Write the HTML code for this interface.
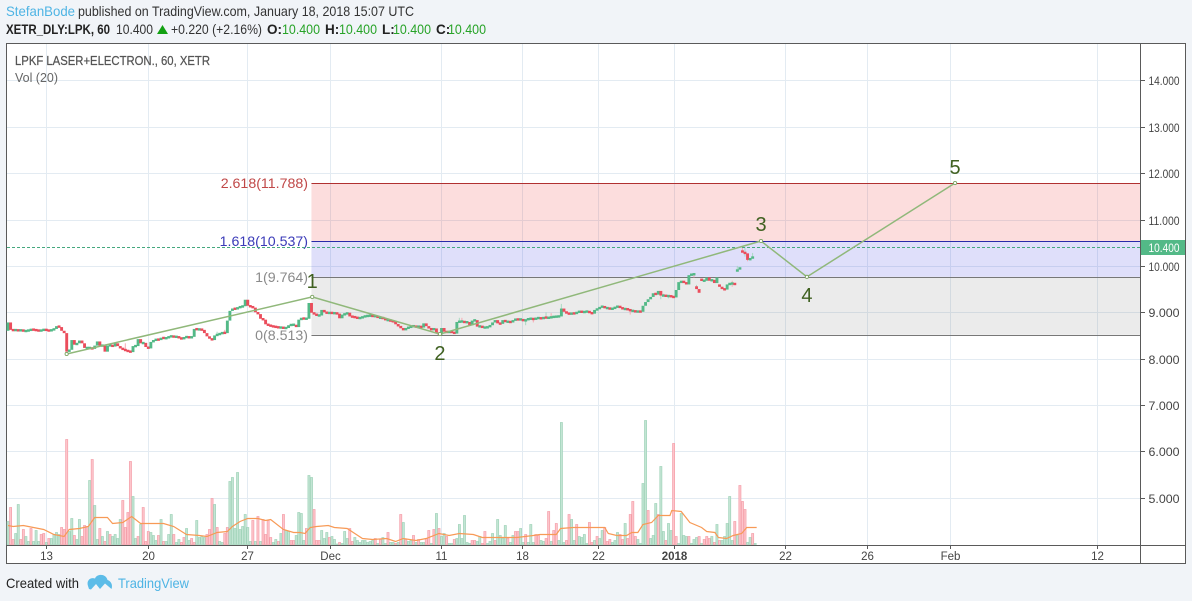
<!DOCTYPE html>
<html lang="en">
<head>
<meta charset="utf-8">
<title>LPKF Laser+Electron chart</title>
<style>
html,body{margin:0;padding:0;background:#f1f4f8;width:1192px;height:601px;overflow:hidden}
svg{display:block;font-family:"Liberation Sans",sans-serif}
</style>
</head>
<body>
<svg id="chart" xmlns="http://www.w3.org/2000/svg" width="1192" height="601" viewBox="0 0 1192 601">
  <rect x="0" y="0" width="1192" height="601" fill="#f1f4f8"/>
  <g font-size="14">
    <text x="6" y="16" fill="#4eb4e4" textLength="69" lengthAdjust="spacingAndGlyphs">StefanBode</text>
    <text x="78" y="16" fill="#333" textLength="336" lengthAdjust="spacingAndGlyphs">published on TradingView.com, January 18, 2018 15:07 UTC</text>
  </g>
  <g font-size="13.5">
    <text x="6" y="34" font-weight="bold" fill="#222" textLength="104" lengthAdjust="spacingAndGlyphs">XETR_DLY:LPK, 60</text>
    <text x="116" y="34" fill="#333" textLength="37" lengthAdjust="spacingAndGlyphs">10.400</text>
    <polygon points="162.5,25 168,34 157,34" fill="#12a012"/>
    <text x="171" y="34" fill="#333" textLength="91" lengthAdjust="spacingAndGlyphs">+0.220 (+2.16%)</text>
    <text x="267" y="34" font-weight="bold" fill="#222">O:</text>
    <text x="282" y="34" fill="#27a327" textLength="38" lengthAdjust="spacingAndGlyphs">10.400</text>
    <text x="325" y="34" font-weight="bold" fill="#222">H:</text>
    <text x="339" y="34" fill="#27a327" textLength="38" lengthAdjust="spacingAndGlyphs">10.400</text>
    <text x="382" y="34" font-weight="bold" fill="#222">L:</text>
    <text x="393" y="34" fill="#27a327" textLength="38" lengthAdjust="spacingAndGlyphs">10.400</text>
    <text x="436" y="34" font-weight="bold" fill="#222">C:</text>
    <text x="448" y="34" fill="#27a327" textLength="38" lengthAdjust="spacingAndGlyphs">10.400</text>
  </g>
  <rect x="6.5" y="43.5" width="1179" height="520" fill="#fff" stroke="#5a5a5a" stroke-width="1"/>
  <g id="grid"></g>
  <g id="fib"></g>
  <g id="volume"></g>
  <g id="candles"></g>
  <g id="wave"></g>
  <g id="axes"></g>
  <g>
    <text x="15" y="65" font-size="13" fill="#555" stroke="#555" stroke-width="0.25" textLength="195" lengthAdjust="spacingAndGlyphs">LPKF LASER+ELECTRON., 60, XETR</text>
    <text x="15" y="82" font-size="13" fill="#666" textLength="43" lengthAdjust="spacingAndGlyphs">Vol (20)</text>
  </g>
  <g>
    <text x="6" y="588" font-size="14" fill="#222" textLength="73" lengthAdjust="spacingAndGlyphs">Created with</text>
    <path d="M88 586 C86 580 91 577 95 578.5 C97 573.5 106 573.5 107.5 580 C111 581 113 585 111.5 589 L105 583.5 L100 589 L96 584 L91 589.5 L89 589 Z" fill="#5cbce8"/>
    <text x="118" y="588" font-size="14" fill="#4eb4e4" textLength="71" lengthAdjust="spacingAndGlyphs">TradingView</text>
  </g>
</svg>
<script>
// ---------- price data: each session segment starts with its opening price, followed by closes ----------
const closeSegments = [
  [8.60, 8.78,8.62,8.61,8.62,8.60,8.62,8.59,8.60,8.61,8.63,8.62,8.61,8.60,8.61,8.63,8.61,8.60,8.62,8.64,8.70,8.68,8.60,8.55,
   8.15,8.19,8.40,8.30,8.33,8.39,8.33,8.23,8.23,8.23,8.21,8.28,8.37,8.28,8.28,8.15,8.28,8.29,8.26,8.33,8.27,8.22,
   8.20,8.17,8.16,8.14,8.27,8.27,8.42,8.33,8.34,8.25,8.22,8.36,8.39,8.42,8.40,8.45,8.44,8.44,8.48,8.48,8.47,8.47,8.45,8.42,
   8.46,8.47,8.45,8.47,8.64,8.63,8.63,8.62,8.55,8.48,8.43,8.40,8.50,8.52,8.54,8.56,8.55,8.82,9.03,9.08,9.07,9.10,9.12,9.13,
   9.27,9.14,9.12,9.10,9.00,8.96,8.86,8.84,8.74,8.72,8.70,8.69,8.68,8.67,8.67,8.66,8.66,8.72,8.73,8.73,8.68,8.84,8.87,8.86,8.86,9.20,
   8.99,8.96,8.93,8.93,9.05,9.00,8.98,8.99,8.98,8.98,8.97,8.87,8.95,8.96,8.99,8.91,8.90,8.89,8.87,8.88,8.90,8.92,8.92,8.93,8.91,8.92,
   8.88,8.88,8.87,8.83,8.83,8.81,8.80,8.74,8.70,8.66,8.61,8.66,8.67,8.70,8.70,8.68,8.70,8.67,8.76,8.70,8.65,8.62,8.65,8.56,8.52,
   8.66,8.58,8.57,8.58,8.57,8.54,8.79,8.80,8.80,8.78,8.79,8.72,8.82,8.83,8.69,8.70,8.67,8.67,8.68,8.72,8.78,8.83,8.76,8.75,8.83,
   8.79,8.80,8.78,8.83,8.85,8.84,8.85,8.81,8.84,8.86,8.86,8.85,8.87,8.88,8.86,8.89,8.88,8.88,8.90,8.90,8.91,8.91,9.08,9.01,8.98,
   8.96,8.98,8.97,9.00,9.02,9.00,9.01,9.02,8.99,8.97,9.05,9.07,9.11,9.13,9.09,9.09,9.07,9.08,9.11,9.13,9.10,
   9.07,9.07,9.06,9.03,9.03,9.01,9.02,9.01,9.14,9.22,9.28,9.33,9.41,9.38,9.46,9.36,9.36,9.35,9.35,9.34,9.32,9.48,9.65,9.66,9.65,9.60,9.80,9.82,9.82],
  [9.56, 9.50,9.42],
  [9.72, 9.68,9.68,9.75,9.68,9.70,9.63,9.75],
  [9.60, 9.55,9.50,9.49,9.60,9.62,9.62,9.60],
  [9.88, 9.92,9.97],
  [10.33, 10.29,10.27,10.13,10.16,10.20]
];
const wickBars  = [46,82,85,177,178,203,206,211,213,217,244,256,257,259,269,270,284,286,288,289,290,292];
const wickHighs = [8.33,8.58,8.62,8.88,8.88,8.84,8.87,9.00,8.98,9.18,9.05,9.40,9.40,9.36,9.82,9.59,9.68,10.00,10.40,10.40,10.27,10.28];
const wickLows  = [8.20,8.52,8.55,8.79,8.78,8.72,8.78,8.88,8.90,8.91,8.95,9.28,9.36,9.30,9.75,9.50,9.55,9.88,10.29,10.20,10.10,10.16];

// ---------- volume in hundreds of shares; negative marks a down-bar (red), positive an up-bar (green) ----------
const volumes = [
  46,-74,-10,22,80,-10,-30,16,6,-32,6,28,6,-20,-22,4,-12,12,20,24,20,-34,-30,
  -210,26,52,-18,10,50,-16,-38,-36,128,-170,78,10,-32,16,-6,26,-20,16,20,12,50,-88,-34,-64,-166,96,12,-16,40,-74,-6,-26,24,18,8,
  -18,50,-6,6,20,60,-20,4,10,-4,-14,32,8,-12,-4,48,14,16,14,-20,-30,-92,80,-34,6,4,-22,-34,126,134,32,144,30,36,60,34,6,
  -48,6,-56,6,-50,-20,-48,-14,4,10,-6,22,-60,28,26,-8,-8,18,64,
  62,8,-32,138,134,-70,-8,-8,28,12,24,-14,16,10,1,-4,2,26,12,-32,-6,14,8,4,8,8,4,6,8,-12,2,-10,14,2,-24,4,4,-2,4,-60,44,-10,6,8,-18,4,-10,4,4,
  -12,-28,2,-30,62,-32,16,22,-16,2,2,-10,12,40,12,58,4,2,-8,-8,6,16,-2,-26,2,6,22,-8,50,18,12,38,-12,4,18,-26,-26,32,4,-20,4,40,4,-20,
  -18,8,6,-12,-66,6,-28,-42,8,244,4,-8,-60,50,8,-40,16,14,20,2,-44,-4,8,-16,12,28,-34,-6,-10,4,8,24,-20,-10,42,-12,-60,-86,-16,10,2,
  122,248,-68,12,18,82,-60,156,26,-8,42,28,-202,-16,2,62,18,16,-16,2,10,14,-16,2,-10,-16,-12,16,-4,40,-8,8,16,42,96,8,-46,18,-118,-86,-70,4,14,-22,2
];
const maBars = [0,2,6,10,14,18,22,24,28,31.5,34,39,41,45,48.5,52,56,61,65,70,75,78,82,86,88,91,94,98,101,103,108,112,114.5,116.5,118.5,121,125.6,128,133,136,139,143,148.5,152,155,160,164,169,173,177,182.5,186,193,199.5,206,208.6,215,216.7,221.7,227.6,234,235.4,238.7,242.6,244.6,247,249,252.4,255,259.6,260.3,264,267.4,272,274,277.2,278.6,281.8,284.4,287.7,289.7,293.6];
const maValues = [38,36,38,34,30,20,16,30,32,36,54,54,42,44,56,42,42,42,36,20,18,16,24,26,36,46,52,52,48,50,30,24,24,22,34,36,38,34,32,22,12,10,12,6,12,8,12,22,18,22,20,14,14,14,18,20,20,32,34,34,34,22,18,18,24,24,40,44,58,58,68,66,44,34,26,24,14,12,18,22,34,34];

// ---------- axes ----------
const priceTicks = [14,13,12,11,10,9,8,7,6,5];
const timeTickBars = [14.9,54.9,93.7,126.3,169.8,201.6,231.4,261.2,304.7,336.9,369.4,427];
const timeTickLabels = ["13","20","27","Dec","11","18","22","2018","22","26","Feb","12"];
const lastPrice = 10.4;

// ---------- drawings ----------
const fibPrices = [11.788,10.537,9.764,8.513];
const fibLabels = ["2.618(11.788)","1.618(10.537)","1(9.764)","0(8.513)"];
const fibStartBar = 119;
const waveBars = [23,119.3,169.4,295.3,313.3,371.4];
const wavePrices = [8.10,9.33,8.53,10.537,9.764,11.788];
const waveLabels = ["1","2","3","4","5"];

// ---------- scales ----------
const xOf = b => 8 + 2.55 * b;
const yOf = p => 265.9 + (10 - p) * 46.35;
const vOf = v => Math.abs(v) * 0.5;
const PLOT_L = 7, PLOT_R = 1140, AXIS_Y = 545, VOL_BASE = 544.5;
const NS = "http://www.w3.org/2000/svg";
function mk(parent, tag, attrs, txt) {
  const el = document.createElementNS(NS, tag);
  for (const k in attrs) el.setAttribute(k, attrs[k]);
  if (txt !== undefined) el.textContent = txt;
  parent.appendChild(el);
  return el;
}
const gGrid = document.getElementById("grid"), gFib = document.getElementById("fib"),
      gVol = document.getElementById("volume"), gCandles = document.getElementById("candles"),
      gWave = document.getElementById("wave"), gAxes = document.getElementById("axes");

// grid
priceTicks.forEach(p => {
  const y = Math.round(yOf(p)) + 0.5;
  const el = mk(gGrid, "line", {x1: PLOT_L, x2: PLOT_R, y1: y, y2: y, stroke: "#e3ebf2"});
  
  
});
timeTickBars.forEach(b => {
  const x = Math.round(xOf(b)) + 0.5;
  const el = mk(gGrid, "line", {x1: x, x2: x, y1: 44, y2: AXIS_Y, stroke: "#e3ebf2"});
  
  
});

// fibonacci levels
const fibFills = ["rgba(233,30,30,.15)","rgba(40,40,220,.15)","rgba(120,120,120,.15)"];
const fibLineColors = ["#b03030","#2a2aa8","#777","#777"];
const fibTextColors = ["#c04848","#3a3ab8","#8a8a8a","#8a8a8a"];
const fibX = xOf(fibStartBar);
fibFills.forEach((c, i) => {
  const el = mk(gFib, "rect", {x: fibX, y: yOf(fibPrices[i]), width: PLOT_R - fibX, height: yOf(fibPrices[i+1]) - yOf(fibPrices[i]), fill: c});
  
  
});
fibPrices.forEach((p, i) => {
  const y = Math.round(yOf(p)) + 0.5;
  const ln = mk(gFib, "line", {x1: fibX, x2: PLOT_R, y1: y, y2: y, stroke: fibLineColors[i]});
  
  
  const t = mk(gFib, "text", {x: 308, y: y + 4.5, "text-anchor": "end", "font-size": 14.2, fill: fibTextColors[i]}, fibLabels[i]);
  
  
});

// volume bars
volumes.forEach((v, i) => {
  const h = vOf(v);
  const up = v >= 0;
  const el = mk(gVol, "rect", {x: xOf(i) - 1, y: VOL_BASE - h, width: 2.1, height: h,
    fill: up ? "#c3e5d4" : "#fdc5cb", stroke: up ? "#a0d3b9" : "#f49ea9", "stroke-width": 0.7});
  
  
});
const ma = mk(gVol, "polyline", {
  points: maBars.map((b, i) => xOf(b) + "," + (VOL_BASE - vOf(maValues[i]))).join(" "),
  fill: "none", stroke: "#f79a56", "stroke-width": 1.2});



// wicks
wickBars.forEach((b, i) => {
  const x = xOf(b);
  const el = mk(gCandles, "line", {x1: x, x2: x, y1: yOf(wickHighs[i]), y2: yOf(wickLows[i]), stroke: i % 2 ? "#a9d9c2" : "#f7a9b2", "stroke-width": 1});
  
  
});

// candles
let barIndex = 0;
closeSegments.forEach(seg => {
  for (let s = 1; s < seg.length; s++) {
    const o = seg[s - 1], c = seg[s];
    const h = Math.max(2.4, Math.abs(yOf(o) - yOf(c)));
    const top = (yOf(o) + yOf(c)) / 2 - h / 2;
    const el = mk(gCandles, "rect", {x: xOf(barIndex) - 1.4, y: top, width: 2.9, height: h, fill: c >= o ? "#53b987" : "#eb4d5c"});
    
    
    barIndex++;
  }
});

// last price line
const lastY = Math.round(yOf(lastPrice)) + 0.5;
const lastLine = mk(gCandles, "line", {x1: PLOT_L, x2: PLOT_R, y1: lastY, y2: lastY, stroke: "#45a87e", "stroke-dasharray": "3 2"});



// elliott wave
const wavePts = waveBars.map((b, i) => [xOf(b), yOf(wavePrices[i])]);
const wl = mk(gWave, "polyline", {points: wavePts.map(p => p.join(",")).join(" "), fill: "none", stroke: "#90b87a", "stroke-width": 1.5});


wavePts.forEach(p => {
  const el = mk(gWave, "circle", {cx: p[0], cy: p[1], r: 1.6, fill: "#fff", stroke: "#7ea565", "stroke-width": 0.9});
  
  
});
const waveLabelDy = [-9, 26, -10, 25, -9];
waveLabels.forEach((t, i) => {
  const p = wavePts[i + 1];
  const el = mk(gWave, "text", {x: p[0], y: p[1] + waveLabelDy[i], "text-anchor": "middle", "font-size": 20, fill: "#3f6020"}, t);
  
  
});

// axes
const ar = mk(gAxes, "line", {x1: 1140.5, x2: 1140.5, y1: 44, y2: 563, stroke: "#5a5a5a"});


const ab = mk(gAxes, "line", {x1: 7, x2: 1185, y1: AXIS_Y + 0.5, y2: AXIS_Y + 0.5, stroke: "#5a5a5a"});


priceTicks.forEach(p => {
  const y = Math.round(yOf(p)) + 0.5;
  const tk = mk(gAxes, "line", {x1: 1140, x2: 1145, y1: y, y2: y, stroke: "#5a5a5a"});
  
  
  const t = mk(gAxes, "text", {x: 1148.5, y: y + 4.5, "font-size": 11.5, fill: "#444", textLength: 31, lengthAdjust: "spacingAndGlyphs"}, p.toFixed(3));
  
  
});
timeTickBars.forEach((b, i) => {
  const x = Math.round(xOf(b)) + 0.5;
  const tk = mk(gAxes, "line", {x1: x, x2: x, y1: AXIS_Y, y2: AXIS_Y + 4, stroke: "#5a5a5a"});
  
  
  const t = mk(gAxes, "text", {x: x, y: 560, "text-anchor": "middle", "font-size": 11.5, fill: "#444",
    "font-weight": timeTickLabels[i] === "2018" ? "bold" : "normal"}, timeTickLabels[i]);
  
  
});
const tag = mk(gAxes, "rect", {x: 1141, y: lastY - 7.5, width: 44, height: 15, fill: "#53b987"});


const tagText = mk(gAxes, "text", {x: 1148.5, y: lastY + 4.5, "font-size": 11.5, fill: "#fff", textLength: 31, lengthAdjust: "spacingAndGlyphs"}, lastPrice.toFixed(3));


</script>
</body>
</html>
